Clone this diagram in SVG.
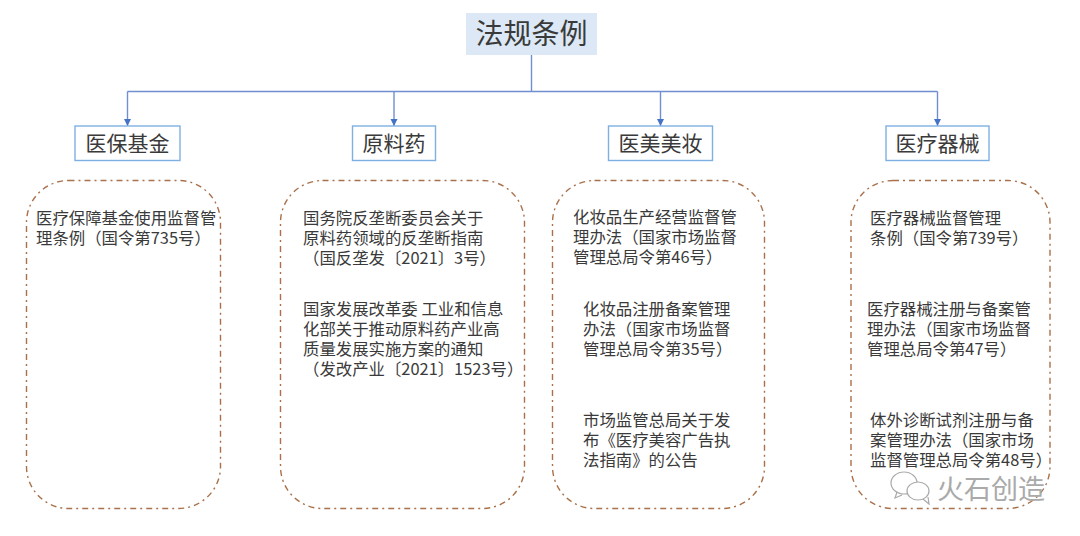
<svg xmlns="http://www.w3.org/2000/svg" width="1080" height="536" viewBox="0 0 1080 536">
<defs>
<marker id="arr" markerUnits="userSpaceOnUse" markerWidth="8" markerHeight="8" refX="7" refY="4" orient="auto"><path d="M0,0.500 L7,4 L0,7.500 Z" fill="#4472c4"/></marker>
</defs>
<style>
text{font-family:"Noto Sans CJK SC","Liberation Sans",sans-serif;fill:#3a3a3a}
.b{font-size:16.4px}
.h{font-size:21px;text-anchor:middle}
.head rect{fill:#fff;stroke:#7fb0e4;stroke-width:1.4}
.panel{fill:none;stroke:#a9714b;stroke-width:1.4;stroke-dasharray:6 4 2 4}
.c{fill:none;stroke:#6f8fd0;stroke-width:1.4}
</style>
<rect width="1080" height="536" fill="#fff"/>
<g id="connectors">
<path class="c" d="M531.500 55V91.500"/>
<path class="c" d="M127.500 91.500H937.500"/>
<path class="c" marker-end="url(#arr)" d="M127.500 91.500V126"/>
<path class="c" marker-end="url(#arr)" d="M394 91.500V126"/>
<path class="c" marker-end="url(#arr)" d="M660.500 91.500V126"/>
<path class="c" marker-end="url(#arr)" d="M937.500 91.500V126"/>
</g>
<g id="root"><rect x="466" y="13" width="131" height="42" fill="#dce8f5"/><text x="531.500" y="44" text-anchor="middle" style="font-size:28px">法规条例</text></g>
<g id="n1" class="head"><rect x="75" y="126" width="105" height="34.500"/><text class="h" x="127.500" y="150.500">医保基金</text></g>
<g id="n2" class="head"><rect x="352.500" y="126" width="83" height="34.500"/><text class="h" x="394" y="150.500">原料药</text></g>
<g id="n3" class="head"><rect x="608.500" y="126" width="104" height="34.500"/><text class="h" x="660.500" y="150.500">医美美妆</text></g>
<g id="n4" class="head"><rect x="886" y="126" width="103" height="34.500"/><text class="h" x="937.500" y="150.500">医疗器械</text></g>
<g id="p1"><rect class="panel" x="26.500" y="180.500" width="194" height="328" rx="42"/>
<text class="b"><tspan x="36" y="224">医疗保障基金使用监督管</tspan><tspan x="36" y="244">理条例（国令第735号）</tspan></text></g>
<g id="p2"><rect class="panel" x="280.500" y="180.500" width="244" height="328" rx="42"/>
<text class="b"><tspan x="303" y="224">国务院反垄断委员会关于</tspan><tspan x="303" y="244">原料药领域的反垄断指南</tspan><tspan x="303" y="264">（国反垄发〔2021〕3号）</tspan></text>
<text class="b"><tspan x="303" y="315">国家发展改革委 工业和信息</tspan><tspan x="303" y="335">化部关于推动原料药产业高</tspan><tspan x="303" y="355">质量发展实施方案的通知</tspan><tspan x="303" y="375">（发改产业〔2021〕1523号）</tspan></text></g>
<g id="p3"><rect class="panel" x="552.500" y="180.500" width="212" height="328" rx="42"/>
<text class="b"><tspan x="573" y="223">化妆品生产经营监督管</tspan><tspan x="573" y="243">理办法（国家市场监督</tspan><tspan x="573" y="263">管理总局令第46号）</tspan></text>
<text class="b"><tspan x="583" y="315">化妆品注册备案管理</tspan><tspan x="583" y="335">办法（国家市场监督</tspan><tspan x="583" y="355">管理总局令第35号）</tspan></text>
<text class="b"><tspan x="583" y="426">市场监管总局关于发</tspan><tspan x="583" y="446">布《医疗美容广告执</tspan><tspan x="583" y="466">法指南》的公告</tspan></text></g>
<g id="p4"><rect class="panel" x="851" y="180.500" width="199" height="328" rx="42"/>
<text class="b"><tspan x="870" y="224">医疗器械监督管理</tspan><tspan x="870" y="244">条例（国令第739号）</tspan></text>
<text class="b"><tspan x="867" y="315">医疗器械注册与备案管</tspan><tspan x="867" y="335">理办法（国家市场监督</tspan><tspan x="867" y="355">管理总局令第47号）</tspan></text>
<text class="b"><tspan x="870" y="426">体外诊断试剂注册与备</tspan><tspan x="870" y="446">案管理办法（国家市场</tspan><tspan x="870" y="466">监督管理总局令第48号）</tspan></text></g>
<g id="watermark" fill="none" stroke="#aaa" stroke-width="1.200"><ellipse cx="904" cy="483" rx="13" ry="11" fill="#fff"/><ellipse cx="918" cy="491" rx="11" ry="9" fill="#fff"/><path d="M897 492l-2 6 7-3M923 499l6 5-1-7"/>
<text x="937" y="499" stroke="none" style="font-size:27px;fill:#aaa">火石创造</text></g>
</svg>
